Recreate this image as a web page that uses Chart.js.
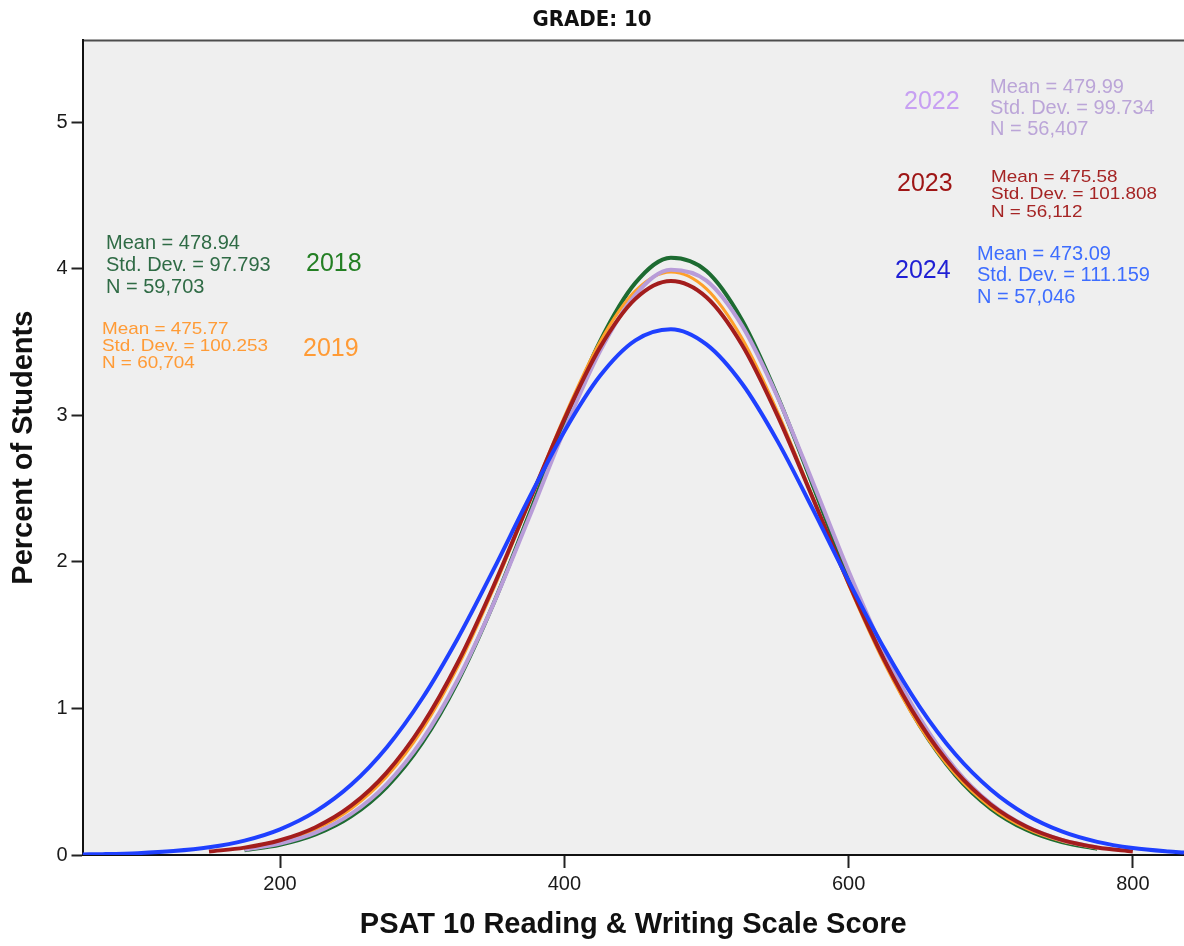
<!DOCTYPE html>
<html>
<head>
<meta charset="utf-8">
<title>GRADE: 10 - PSAT 10 Reading &amp; Writing</title>
<script src="https://cdn.jsdelivr.net/npm/chart.js@4.4.1/dist/chart.umd.min.js"></script>
<style>
  html, body { margin: 0; padding: 0; background: #fff; }
  #wrap { width: 1184px; height: 946px; }
</style>
</head>
<body>
<div id="wrap"><canvas id="gradeChart" width="1184" height="946"></canvas></div>
<script>
const scores = [61, 75, 100, 125, 150, 175, 200, 225, 250, 275, 300, 325, 350, 375, 400, 425, 450,
  475, 500, 525, 550, 575, 600, 625, 650, 675, 700, 725, 750, 775, 800, 825, 836];

// percent of students at each score (null = curve not drawn there)
const pct2018 = [null, null, null, null, null, 0.0326, 0.0698, 0.1401, 0.2634, 0.4639, 0.765, 1.182, 1.711, 2.319, 2.945, 3.504, 3.905,
  4.077, 3.986, 3.652, 3.133, 2.519, 1.896, 1.337, 0.884, 0.547, 0.317, 0.172, 0.0876, 0.0417, null, null, null];
const pct2019 = [null, null, null, null, null, 0.0442, 0.0905, 0.1742, 0.3151, 0.5356, 0.8555, 1.284, 1.812, 2.401, 2.991, 3.500, 3.850,
  3.979, 3.864, 3.527, 3.025, 2.438, 1.846, 1.314, 0.879, 0.552, 0.326, 0.181, 0.0944, 0.0462, null, null, null];
const pct2022 = [null, null, null, null, null, 0.0373, 0.0778, 0.1523, 0.2801, 0.484, 0.785, 1.196, 1.711, 2.298, 2.900, 3.436, 3.823,
  3.995, 3.920, 3.613, 3.126, 2.541, 1.939, 1.390, 0.936, 0.591, 0.351, 0.1956, 0.1024, 0.0504, null, null, null];
const pct2023 = [null, null, null, null, 0.0236, 0.0502, 0.1005, 0.1895, 0.3365, 0.5627, 0.8856, 1.312, 1.831, 2.405, 2.974, 3.463, 3.796,
  3.918, 3.807, 3.483, 2.999, 2.432, 1.857, 1.334, 0.903, 0.575, 0.345, 0.1949, 0.1036, 0.0518, 0.0244, null, null];
const pct2024 = [0.0037, 0.0059, 0.0128, 0.0267, 0.0526, 0.0985, 0.1755, 0.2975, 0.479, 0.734, 1.068, 1.478, 1.944, 2.432, 2.891, 3.269, 3.513,
  3.589, 3.485, 3.218, 2.825, 2.357, 1.871, 1.411, 1.011, 0.689, 0.447, 0.275, 0.161, 0.0898, 0.0475, 0.0239, 0.0171];

// summary stats printed on the chart
const years = ['2018', '2019', '2022', '2023', '2024'];
const means = ['478.94', '475.77', '479.99', '475.58', '473.09'];
const stdDevs = ['97.793', '100.253', '99.734', '101.808', '111.159'];
const counts = ['59,703', '60,704', '56,407', '56,112', '57,046'];

const xTicks = [200, 400, 600, 800];
const yTicks = [0, 1, 2, 3, 4, 5];

const FONT = "'Liberation Sans', Arial, sans-serif";

function toPoints(values) {
    return scores.map((x, i) => ({ x: x, y: values[i] })).filter(p => p.y !== null);
}

// üîπ colours / label placement per year (same order as years)
const looks = [
    { line: '#1d6b31', width: 4, order: 5, year: '#237f23', stat: '#2f6b45',
      yearAt: [306, 264], statAt: [106, 243], statSize: 20, stretch: 1, gap: 22 },
    { line: '#ffa02a', width: 3, order: 4, year: '#ff9b36', stat: '#ff9b36',
      yearAt: [303, 349], statAt: [102, 329], statSize: 17, stretch: 1.11, gap: 17 },
    { line: '#b89cd8', width: 4, order: 3, year: '#c7a0f2', stat: '#bba5d8',
      yearAt: [904, 102], statAt: [990, 87], statSize: 20, stretch: 1, gap: 21 },
    { line: '#a31d1d', width: 4, order: 2, year: '#9e1515', stat: '#a52424',
      yearAt: [897, 184], statAt: [991, 177], statSize: 17, stretch: 1.11, gap: 17.5 },
    { line: '#1f40ff', width: 4, order: 1, year: '#1f1fd4', stat: '#3d6dff',
      yearAt: [895, 271], statAt: [977, 254], statSize: 20, stretch: 1, gap: 21.7 }
];

const seriesValues = [pct2018, pct2019, pct2022, pct2023, pct2024];

const plotBackground = {
    id: 'plotBackground',
    beforeDraw(chart) {
        const { ctx, chartArea: a } = chart;
        ctx.save();
        ctx.fillStyle = '#efefef';
        ctx.fillRect(a.left, a.top, a.right - a.left, a.bottom - a.top);
        ctx.strokeStyle = '#4d4d4d';
        ctx.lineWidth = 2;
        ctx.beginPath();
        ctx.moveTo(a.left, a.top);
        ctx.lineTo(a.right, a.top);
        ctx.stroke();
        ctx.restore();
    }
};

// üîπ year labels and Mean / Std. Dev. / N notes
const statNotes = {
    id: 'statNotes',
    afterDatasetsDraw(chart) {
        const ctx = chart.ctx;
        ctx.save();
        ctx.textBaseline = 'middle';
        ctx.textAlign = 'left';
        years.forEach((yr, i) => {
            const look = looks[i];
            ctx.fillStyle = look.year;
            ctx.font = `25px ${FONT}`;
            ctx.fillText(yr, look.yearAt[0], look.yearAt[1]);

            const lines = [
                `Mean = ${means[i]}`,
                `Std. Dev. = ${stdDevs[i]}`,
                `N = ${counts[i]}`
            ];
            ctx.fillStyle = look.stat;
            ctx.font = `${look.statSize}px ${FONT}`;
            lines.forEach((t, k) => {
                ctx.save();
                ctx.translate(look.statAt[0], look.statAt[1] + k * look.gap);
                ctx.scale(look.stretch, 1);
                ctx.fillText(t, 0, 0);
                ctx.restore();
            });
        });
        ctx.restore();
    }
};

const ctx = document.getElementById('gradeChart').getContext('2d');

new Chart(ctx, {
    type: 'line',
    data: {
        datasets: years.map((yr, i) => ({
            label: yr,
            data: toPoints(seriesValues[i]),
            borderColor: looks[i].line,
            borderWidth: looks[i].width,
            order: looks[i].order,
            pointRadius: 0,
            fill: false,
            cubicInterpolationMode: 'monotone'
        }))
    },
    options: {
        responsive: false,
        devicePixelRatio: 1,
        animation: false,
        layout: { padding: 0 },
        plugins: {
            legend: { display: false },
            tooltip: { enabled: false },
            title: {
                display: true,
                text: 'GRADE: 10',
                color: '#111',
                font: { family: "'Liberation Sans Narrow', 'DejaVu Sans Condensed', " + FONT, size: 22, weight: 'bold' },
                padding: { top: 7, bottom: 7 }
            }
        },
        scales: {
            x: {
                type: 'linear',
                min: 61,
                max: 836,
                afterBuildTicks: scale => { scale.ticks = xTicks.map(v => ({ value: v })); },
                afterFit: scale => { scale.height = 91; },
                grid: { drawOnChartArea: false, drawTicks: true, tickLength: 13, tickColor: '#222', tickWidth: 2 },
                border: { display: true, color: '#111', width: 2 },
                ticks: { color: '#1a1a1a', font: { family: FONT, size: 20 }, padding: 4, maxRotation: 0 },
                title: {
                    display: true,
                    text: 'PSAT 10 Reading & Writing Scale Score',
                    color: '#111',
                    font: { family: FONT, size: 29, weight: 'bold' },
                    padding: { top: 0, bottom: 4 }
                }
            },
            y: {
                type: 'linear',
                min: 0,
                max: 5.56,
                afterBuildTicks: scale => { scale.ticks = yTicks.map(v => ({ value: v })); },
                afterFit: scale => { scale.width = 82.5; },
                grid: { drawOnChartArea: false, drawTicks: true, tickLength: 11, tickColor: '#222', tickWidth: 2 },
                border: { display: true, color: '#111', width: 2 },
                ticks: { color: '#1a1a1a', font: { family: FONT, size: 20 }, padding: 4 },
                title: {
                    display: true,
                    text: 'Percent of Students',
                    color: '#111',
                    font: { family: FONT, size: 29, weight: 'bold' },
                    padding: { top: 7, bottom: 0 }
                }
            }
        }
    },
    plugins: [plotBackground, statNotes]
});
</script>
</body>
</html>
